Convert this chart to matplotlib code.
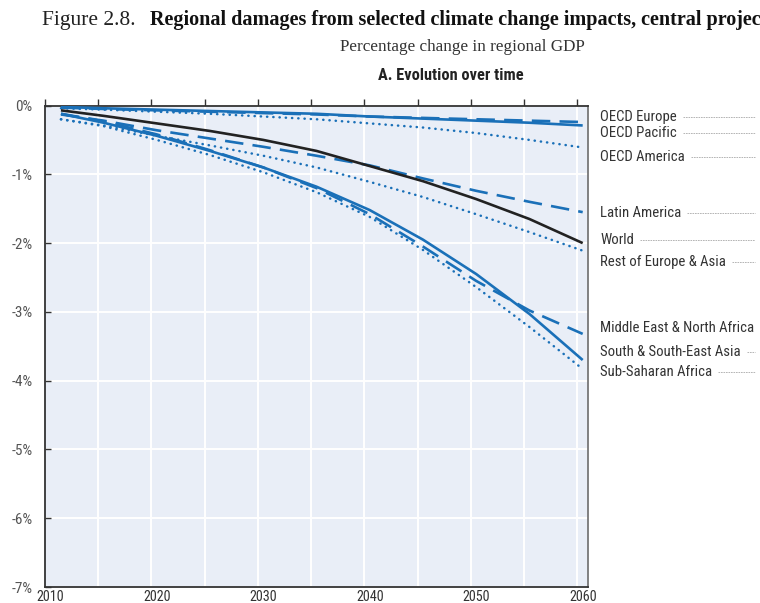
import matplotlib
matplotlib.use("Agg")
import matplotlib.pyplot as plt
from matplotlib import font_manager
import numpy as np

# Damages from climate change impacts, % change in regional GDP
years = [2011, 2015, 2020, 2025, 2030, 2035, 2040, 2045, 2050, 2055, 2060]

oecd_europe = [-0.03, -0.05, -0.07, -0.09, -0.11, -0.13, -0.16, -0.18, -0.20, -0.22, -0.24]
oecd_pacific = [-0.02, -0.04, -0.06, -0.08, -0.10, -0.12, -0.16, -0.19, -0.22, -0.25, -0.29]
oecd_america = [-0.04, -0.06, -0.09, -0.12, -0.16, -0.20, -0.26, -0.32, -0.40, -0.50, -0.61]
latin_america = [-0.13, -0.22, -0.36, -0.48, -0.60, -0.73, -0.87, -1.06, -1.24, -1.40, -1.55]
world = [-0.07, -0.15, -0.26, -0.37, -0.50, -0.66, -0.88, -1.10, -1.36, -1.65, -2.00]
rest_europe_asia = [-0.20, -0.29, -0.44, -0.58, -0.73, -0.90, -1.11, -1.33, -1.58, -1.84, -2.11]
mena = [-0.12, -0.23, -0.42, -0.65, -0.90, -1.20, -1.58, -2.05, -2.55, -2.98, -3.32]
south_asia = [-0.12, -0.25, -0.44, -0.66, -0.90, -1.18, -1.52, -1.95, -2.45, -3.03, -3.70]
ssa = [-0.20, -0.30, -0.50, -0.72, -0.97, -1.26, -1.62, -2.10, -2.64, -3.22, -3.83]

series_names = ["OECD Europe", "OECD Pacific", "OECD America",
                "Latin America", "World", "Rest of Europe & Asia",
                "Middle East & North Africa", "South & South-East Asia",
                "Sub-Saharan Africa"]
series_values = [oecd_europe, oecd_pacific, oecd_america,
                 latin_america, world, rest_europe_asia,
                 mena, south_asia, ssa]
series_styles = ["dash", "solid", "dot", "dash", "world", "dot", "dash", "solid", "dot"]

# vertical placement of the end labels (in % units)
label_y = [-0.17, -0.40, -0.75, -1.56, -1.95, -2.27, -3.23, -3.59, -3.88]

y_ticks = [0, -1, -2, -3, -4, -5, -6, -7]
y_tick_labels = ["0%", "-1%", "-2%", "-3%", "-4%", "-5%", "-6%", "-7%"]
x_tick_years = [2010, 2020, 2030, 2040, 2050, 2060]

BLUE = "#1a70b8"

# prefer a condensed sans for the chart text
installed = {f.name for f in font_manager.fontManager.ttflist}
narrow = [f for f in ["Roboto Condensed", "Liberation Sans Narrow", "Arial Narrow"]
          if f in installed]
condensed = bool(narrow)
narrow = narrow + ["Liberation Sans", "DejaVu Sans"]
serif = ["Liberation Serif", "DejaVu Serif"]
fs = 10.6 if condensed else 9.0

fig = plt.figure(figsize=(7.6, 6.03), dpi=100)
ax = fig.add_axes([0.0592, 0.0265, 0.7145, 0.7985])
ax.set_facecolor("#e9eef7")

for name, vals, style in zip(series_names, series_values, series_styles):
    if style == "world":
        ax.plot(years, vals, color="#222222", lw=1.9, solid_capstyle="butt", zorder=4)
    elif style == "solid":
        ax.plot(years, vals, color=BLUE, lw=1.9, solid_capstyle="butt", zorder=3)
    elif style == "dash":
        ax.plot(years, vals, color=BLUE, lw=1.9, linestyle=(0, (7, 3.5)),
                dash_capstyle="butt", zorder=3)
    else:
        ax.plot(years, vals, color=BLUE, lw=1.8, linestyle=(0, (0.1, 2.4)),
                dash_capstyle="round", zorder=3)

ax.set_xlim(2009.5, 2060.5)
ax.set_ylim(-7, 0)

# grid: horizontal at each percent, vertical every five years between categories
for v in y_ticks:
    ax.axhline(v, color="white", lw=1.4, zorder=1)
grid_x = np.arange(2014.5, 2060, 5)
for gx in grid_x:
    ax.axvline(gx, color="white", lw=1.4, zorder=1)

ax.set_yticks(y_ticks)
ax.set_yticklabels(y_tick_labels, fontfamily=narrow, fontsize=fs + 0.4, color="#555555")
ax.tick_params(axis="y", direction="in", length=4, width=1, color="#333333", pad=9)

ax.set_xticks(x_tick_years)
ax.set_xticklabels([str(y) for y in x_tick_years], fontfamily=narrow, fontsize=fs - 0.4,
                   color="#333333")
ax.tick_params(axis="x", length=0, pad=2)

# tick marks along the top border
top = ax.secondary_xaxis("top")
top.set_xticks(np.arange(2009.5, 2061, 5))
top.set_xticklabels([])
top.tick_params(direction="out", length=5, width=1, color="#333333")
top.spines["top"].set_visible(False)

for side in ["left", "bottom", "top"]:
    ax.spines[side].set_color("#333333")
    ax.spines[side].set_linewidth(1.3)
ax.spines["right"].set_color("#777777")
ax.spines["right"].set_linewidth(1.3)

# titles
fig.text(42 / 760, 1 - 25 / 603, "Figure 2.8.", fontfamily=serif, fontsize=15.5,
         color="#222222", va="baseline", ha="left")
fig.text(150 / 760, 1 - 25 / 603,
         "Regional damages from selected climate change impacts, central projection",
         fontfamily=serif, fontsize=14.5, fontweight="bold", color="#111111",
         va="baseline", ha="left")
fig.text(462 / 760, 1 - 47 / 603, "Percentage change in regional GDP",
         fontfamily=serif, fontsize=12.3, color="#333333", ha="center", va="center")
fig.text(451 / 760, 1 - 76 / 603, "A. Evolution over time",
         fontfamily=narrow, fontsize=fs + 1.2, fontweight="bold", color="#222222",
         ha="center", va="center")

# end labels with leader lines
fig.canvas.draw()
renderer = fig.canvas.get_renderer()
for name, ly in zip(series_names, label_y):
    ypix = ax.transData.transform((2060, ly))[1]
    t = fig.text(600 / 760, ypix / 603, name, fontfamily=narrow, fontsize=fs,
                 color="#333333", ha="left", va="center")
    bb = t.get_window_extent(renderer)
    x0 = bb.x1 + 6
    x1 = 755
    if x1 - x0 > 3:
        fig.add_artist(plt.Line2D([x0 / 760, x1 / 760], [ypix / 603, ypix / 603],
                                  transform=fig.transFigure, color="#aaaaaa",
                                  lw=0.6, linestyle=(0, (2, 1))))

fig.savefig("out.png", dpi=100)
